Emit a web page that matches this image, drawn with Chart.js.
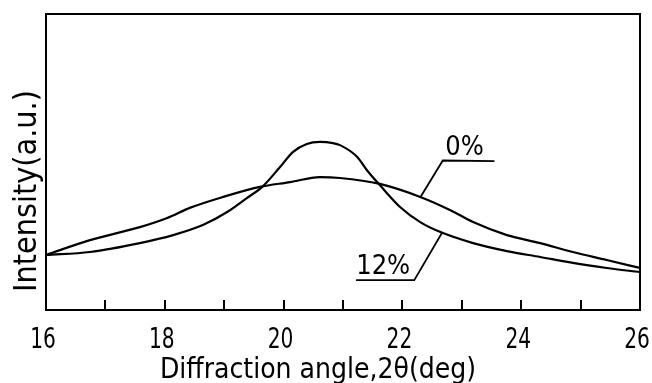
<!DOCTYPE html>
<html>
<head>
<meta charset="utf-8">
<script src="https://cdn.jsdelivr.net/npm/chart.js@4.4.1/dist/chart.umd.min.js"></script>
<style>
    html, body { margin: 0; padding: 0; background: #fff; }
    #wrap { width: 652px; height: 383px; }
</style>
</head>
<body>
<div id="wrap"><canvas id="xrd"></canvas></div>
<script>
// broad curve (labelled 0%)
const angles0 = [16.0, 16.74, 17.58, 18.04, 18.42, 18.98, 19.6, 20.11, 20.61, 20.95, 21.62, 22.3, 22.8, 23.19, 23.76, 24.32, 24.87, 25.44, 26.0];
const intensity0 = [18.6, 23.6, 28.0, 31.1, 34.5, 38.2, 41.6, 43.2, 44.9, 44.6, 42.6, 38.2, 33.8, 29.7, 25.3, 22.6, 19.6, 16.9, 14.2];

// sharp curve (labelled 12%)
const angles12 = [16.0, 16.74, 17.58, 18.14, 18.64, 19.05, 19.38, 19.64, 19.94, 20.16, 20.39, 20.61, 20.83, 20.95, 21.24, 21.4, 21.62, 21.96, 22.3, 22.63, 23.19, 23.76, 24.32, 24.87, 25.44, 26.0];
const intensity12 = [18.6, 19.6, 22.6, 25.3, 28.7, 33.1, 37.8, 41.6, 48.3, 53.4, 56.1, 56.8, 56.4, 55.7, 51.7, 47.3, 42.2, 34.8, 29.7, 26.4, 22.6, 19.9, 17.9, 15.9, 14.2, 12.8];

const xLabels = [16, 18, 20, 22, 24, 26];
const tickMarks = [17, 18, 19, 20, 21, 22, 23, 24, 25];

const FONT = '"DejaVu Sans Condensed", "DejaVu Sans", sans-serif';

// label leaders: underline end -> elbow -> point on curve, in data units
const callouts = [
    { text: '0%', pts: [[23.55, 50.3], [22.68, 50.5], [22.3, 38.0]], dx: -4 },
    { text: '12%', pts: [[21.22, 10.1], [22.2, 10.1], [22.67, 26.2]], dx: -2 }
];

const toXY = (xs, ys) => xs.map((x, i) => ({ x: x, y: ys[i] }));

// narrow lettering, like the stencil digits of the original figure
function narrowText(ctx, text, cx, cy, sx) {
    ctx.save();
    ctx.translate(cx, cy);
    ctx.scale(sx, 1);
    ctx.fillText(text, 0, 0);
    ctx.restore();
}

const extras = {
    id: 'extras',
    afterDraw(chart) {
        const { ctx, chartArea: a, scales: { x, y } } = chart;
        ctx.save();
        ctx.strokeStyle = '#000';
        ctx.lineWidth = 2;
        ctx.strokeRect(a.left, a.top, a.right - a.left, a.bottom - a.top);

        // inward ticks
        tickMarks.forEach(v => {
            const px = Math.round(x.getPixelForValue(v));
            ctx.beginPath();
            ctx.moveTo(px, a.bottom);
            ctx.lineTo(px, a.bottom - 10);
            ctx.stroke();
        });

        // tick labels
        ctx.fillStyle = '#000';
        ctx.textAlign = 'center';
        ctx.textBaseline = 'alphabetic';
        ctx.font = '28px ' + FONT;
        xLabels.forEach(v => {
            narrowText(ctx, String(v), x.getPixelForValue(v) - 3, a.bottom + 38, 0.8);
        });

        // callouts
        ctx.lineWidth = 1.8;
        ctx.font = '27px ' + FONT;
        callouts.forEach(c => {
            ctx.beginPath();
            c.pts.forEach((p, i) => {
                const px = x.getPixelForValue(p[0]);
                const py = y.getPixelForValue(p[1]);
                if (i === 0) ctx.moveTo(px, py); else ctx.lineTo(px, py);
            });
            ctx.stroke();
            const x0 = x.getPixelForValue(c.pts[0][0]);
            const x1 = x.getPixelForValue(c.pts[1][0]);
            const yb = y.getPixelForValue(c.pts[0][1]);
            ctx.fillText(c.text, (x0 + x1) / 2 + c.dx, yb - 6);
        });

        // axis titles
        ctx.font = '28px ' + FONT;
        ctx.fillText('Diffraction angle,2θ(deg)', 318, 378);
        ctx.font = '32px ' + FONT;
        ctx.translate(36, 191);
        ctx.rotate(-Math.PI / 2);
        ctx.fillText('Intensity(a.u.)', 0, 0);
        ctx.restore();
    }
};

new Chart(document.getElementById('xrd'), {
    type: 'line',
    data: {
        datasets: [
            {
                label: '0%',
                data: toXY(angles0, intensity0),
                borderColor: '#000',
                borderWidth: 2.2,
                pointRadius: 0,
                cubicInterpolationMode: 'monotone',
                fill: false
            },
            {
                label: '12%',
                data: toXY(angles12, intensity12),
                borderColor: '#000',
                borderWidth: 2.2,
                pointRadius: 0,
                cubicInterpolationMode: 'monotone',
                fill: false
            }
        ]
    },
    options: {
        responsive: true,
        maintainAspectRatio: false,
        animation: false,
        layout: { autoPadding: false, padding: { left: 46, right: 12, top: 14, bottom: 0 } },
        plugins: { legend: { display: false }, tooltip: { enabled: false } },
        scales: {
            x: {
                type: 'linear',
                min: 16,
                max: 26,
                afterFit(scale) {
                    scale.height = 73;
                    scale.paddingLeft = 0;
                    scale.paddingRight = 0;
                },
                grid: { display: false, drawTicks: false },
                border: { display: false },
                ticks: { display: false }
            },
            y: {
                display: false,
                min: 0,
                max: 100
            }
        }
    },
    plugins: [extras]
});
</script>
</body>
</html>
